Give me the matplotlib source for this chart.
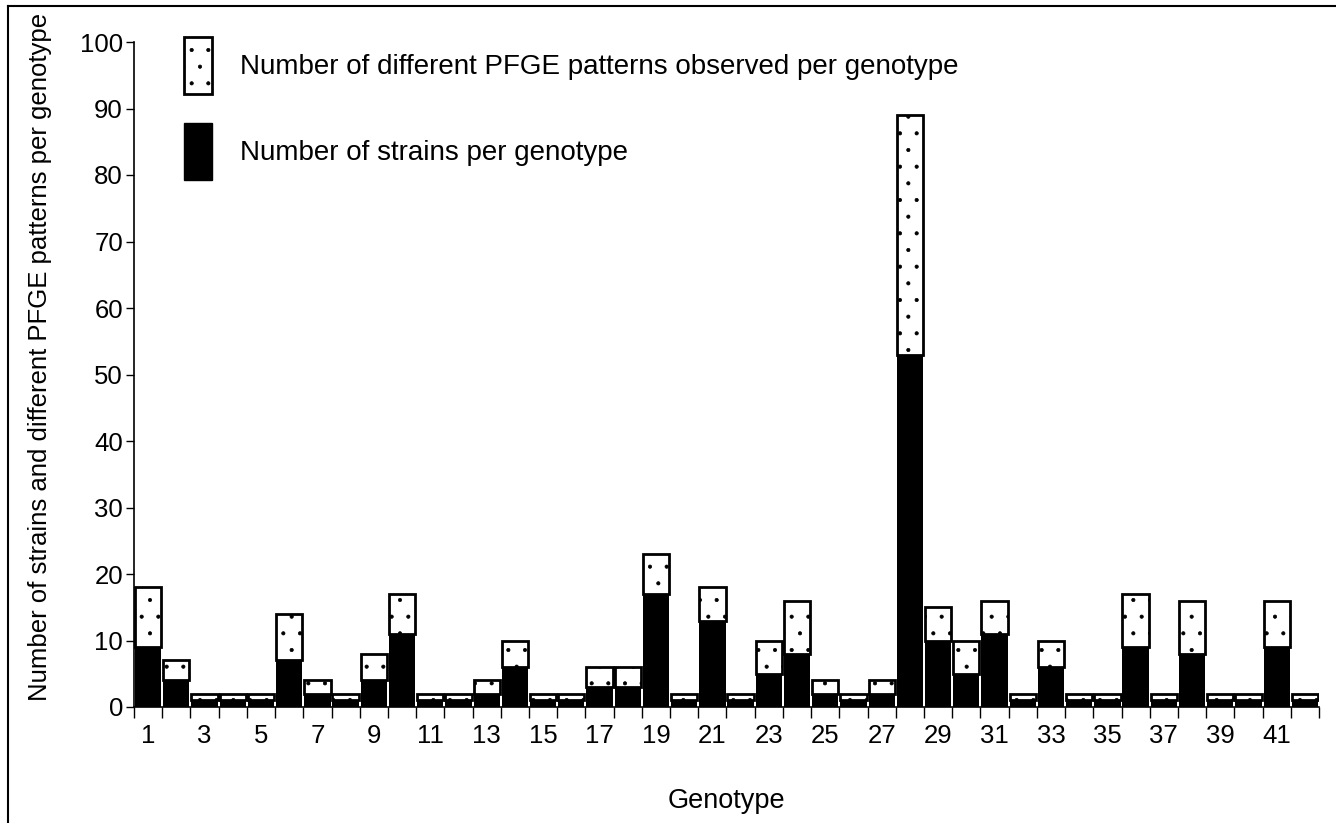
import matplotlib.pyplot as plt
from matplotlib.patches import Patch
from matplotlib.lines import Line2D

plt.rcParams['font.family'] = ['Liberation Sans', 'DejaVu Sans']
plt.rcParams['hatch.linewidth'] = 0.5

#DATA
genotypes = list(range(1, 43))
strains = [9, 4, 1, 1, 1, 7, 2, 1, 4, 11, 1, 1, 2, 6, 1, 1, 3, 3, 17, 1, 13,
           1, 5, 8, 2, 1, 2, 53, 10, 5, 11, 1, 6, 1, 1, 9, 1, 8, 1, 1, 9, 1]
patterns = [9, 3, 1, 1, 1, 7, 2, 1, 4, 6, 1, 1, 2, 4, 1, 1, 3, 3, 6, 1, 5,
            1, 5, 8, 2, 1, 2, 36, 5, 5, 5, 1, 4, 1, 1, 8, 1, 8, 1, 1, 7, 1]
xtick_labels = [str(g) for g in genotypes if g % 2 == 1]

fig = plt.figure(figsize=(13.36, 8.23), dpi=100)
ax = fig.add_axes([134 / 1336, 1 - 707 / 823, 1185 / 1336, 665 / 823])

#bars: black = strains, dotted on top = patterns
ax.bar(genotypes, strains, width=0.93, color='black', edgecolor='none', zorder=2)
ax.bar(genotypes, patterns, bottom=strains, width=0.93, facecolor='white',
       edgecolor='black', hatch='.', linewidth=2, zorder=3)

ax.set_xlim(0.5, 42.5)
ax.set_ylim(0, 100)
ax.set_yticks(range(0, 101, 10))
ax.set_xticks([g for g in genotypes if g % 2 == 1])
ax.set_xticklabels(xtick_labels)
ax.set_xticks([g + 0.5 for g in range(0, 43)], minor=True)
ax.tick_params(axis='x', which='major', length=0, labelsize=18.5, pad=12)
ax.tick_params(axis='x', which='minor', length=8, width=1, direction='out')
ax.tick_params(axis='y', length=6, width=1, labelsize=18.5, pad=2)

for s in ['top', 'right']:
    ax.spines[s].set_visible(False)
for s in ['left', 'bottom']:
    ax.spines[s].set_linewidth(1.2)

ax.set_ylabel('Number of strains and different PFGE patterns per genotype', fontsize=18.5)
ax.yaxis.set_label_coords(-0.069, 0.526)
ax.set_xlabel('Genotype', fontsize=19.5)
ax.xaxis.set_label_coords(0.5, -0.122)

#legend
handles = [Patch(facecolor='white', edgecolor='black', hatch='.', linewidth=2),
           Patch(facecolor='black', edgecolor='black')]
labels = ['Number of different PFGE patterns observed per genotype',
          'Number of strains per genotype']
fig.legend(handles, labels, loc='upper left', bbox_to_anchor=(184 / 1336, 1 - 37 / 823),
           bbox_transform=fig.transFigure, frameon=False, fontsize=20,
           handlelength=1.0, handleheight=2.77, labelspacing=1.05,
           handletextpad=1.0, borderpad=0, borderaxespad=0)

#outer frame (only top and left are visible)
fig.add_artist(Line2D([8 / 1336, 1], [1 - 6 / 823, 1 - 6 / 823], color='black', linewidth=1.5))
fig.add_artist(Line2D([8 / 1336, 8 / 1336], [0, 1 - 6 / 823], color='black', linewidth=1.5))

fig.savefig('out.png', dpi=100)
